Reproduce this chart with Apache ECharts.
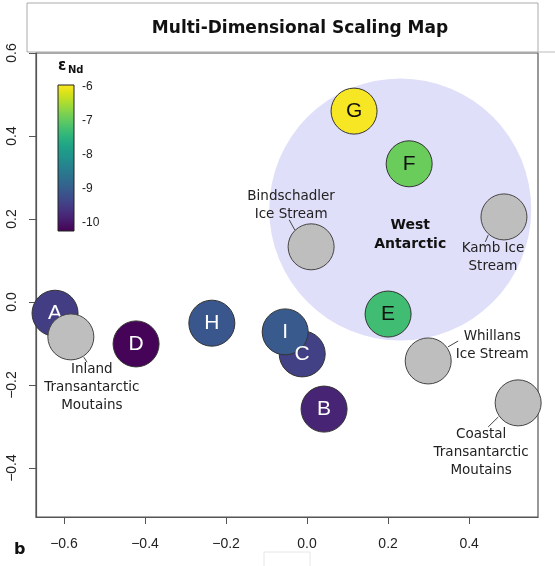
<!DOCTYPE html>
<html>
<head>
<meta charset="utf-8">
<script src="https://cdn.jsdelivr.net/npm/echarts@6/dist/echarts.min.js"></script>
<style>html,body{margin:0;padding:0;background:#fff;}#chart{width:555px;height:566px;}</style>
</head>
<body>
<div id="chart"></div>
<script>
// ---- data ----
const sampleNames = ['A', 'B', 'C', 'D', 'E', 'F', 'G', 'H', 'I'];
const sampleX = [-0.622, 0.042, -0.012, -0.422, 0.200, 0.252, 0.116, -0.235, -0.054];
const sampleY = [-0.027, -0.258, -0.125, -0.101, -0.029, 0.333, 0.460, -0.051, -0.072];
const sampleENd = [-9.47, -9.81, -9.42, -10.2, -7.27, -6.93, -5.98, -9.08, -9.04];

const sourceNames = ['Bindschadler\nIce Stream', 'Kamb Ice\nStream', 'Whillans\nIce Stream',
  'Coastal\nTransantarctic\nMoutains', 'Inland\nTransantarctic\nMoutains'];
const sourceX = [0.010, 0.486, 0.299, 0.521, -0.583];
const sourceY = [0.133, 0.205, -0.142, -0.243, -0.084];

// leader lines (data units): [x1, y1, x2, y2]
const leaderX1 = [-0.044, 0.440, 0.348, 0.447, -0.551];
const leaderY1 = [0.198, 0.145, -0.108, -0.301, -0.133];
const leaderX2 = [-0.030, 0.447, 0.373, 0.472, -0.543];
const leaderY2 = [0.173, 0.161, -0.094, -0.277, -0.145];

const regionName = 'West\nAntarctic';
const regionX = [0.230];
const regionY = [0.223];

const xTicks = [-0.6, -0.4, -0.2, 0.0, 0.2, 0.4];
const yTicks = [-0.4, -0.2, 0.0, 0.2, 0.4, 0.6];
const cbTicks = [-10, -9, -8, -7, -6];
const cbMinorTicks = [-10, -9.5, -9, -8.5, -8, -7.5, -7, -6.5, -6];
const cbMin = -10.24, cbMax = -5.94;

// ---- styling ----
const viridis = ['#440154', '#471365', '#482475', '#463480', '#414487', '#3b528b', '#355f8d',
  '#2f6c8e', '#2a788e', '#25848e', '#21918c', '#1e9c89', '#22a884', '#2fb47c', '#44bf70',
  '#5ec962', '#7ad151', '#9bd93c', '#bddf26', '#dfe318', '#fde725'];
const sourceLabelOffsets = [[-20, -41], [-11, 41], [64, -15], [-37, 50], [21, 51]];
const fmt = v => (Math.abs(v) < 1e-9 ? '0.0' : v.toFixed(1).replace('-', '\u2212'));
const axisColor = '#555';
const textColor = '#222';

const chart = echarts.init(document.getElementById('chart'), null, {renderer: 'canvas'});

const leaderSeries = leaderX1.map((x, i) => ({
  type: 'line', xAxisIndex: 0, yAxisIndex: 0, symbol: 'none', silent: true, z: 3,
  lineStyle: {color: '#444', width: 1},
  data: [[x, leaderY1[i]], [leaderX2[i], leaderY2[i]]]
}));

const option = {
  animation: false,
  backgroundColor: '#fff',
  grid: [
    {left: 36, right: 17, top: 53, bottom: 49, show: true, borderColor: axisColor, borderWidth: 1.2, backgroundColor: 'transparent'},
    {left: 58, top: 85, width: 16, height: 146}
  ],
  xAxis: [
    {
      type: 'value', gridIndex: 0, min: -0.669, max: 0.570,
      axisLine: {show: true, onZero: false, lineStyle: {color: axisColor, width: 1.2}},
      axisTick: {show: true, customValues: xTicks, length: 7, lineStyle: {color: axisColor}},
      axisLabel: {customValues: xTicks, formatter: fmt, margin: 20, fontSize: 14, color: textColor, fontFamily: 'Liberation Sans'},
      splitLine: {show: false}
    },
    {type: 'value', gridIndex: 1, show: false, min: 0, max: 1}
  ],
  yAxis: [
    {
      type: 'value', gridIndex: 0, min: -0.518, max: 0.600,
      axisLine: {show: true, onZero: false, lineStyle: {color: axisColor, width: 1.2}},
      axisTick: {show: true, customValues: yTicks, length: 7, lineStyle: {color: axisColor}},
      axisLabel: {customValues: yTicks, formatter: fmt, rotate: 90, margin: 17, fontSize: 14, color: textColor, fontFamily: 'Liberation Sans'},
      splitLine: {show: false}
    },
    {
      type: 'value', gridIndex: 1, position: 'right', min: cbMin, max: cbMax,
      axisLine: {show: false},
      axisTick: {show: true, customValues: cbMinorTicks, length: 5, lineStyle: {color: '#333'}},
      axisLabel: {customValues: cbTicks, formatter: v => String(v), margin: 8, fontSize: 12, color: textColor, fontFamily: 'Liberation Sans'},
      splitLine: {show: false}
    }
  ],
  visualMap: {
    type: 'continuous', show: false, min: cbMin, max: cbMax, dimension: 2, seriesIndex: 1,
    inRange: {color: viridis}
  },
  series: [
    {
      type: 'scatter', xAxisIndex: 0, yAxisIndex: 0, symbolSize: 262, silent: true, z: 1,
      itemStyle: {color: '#dfdffa', opacity: 1},
      label: {
        show: true, position: 'inside', offset: [10, 25], formatter: regionName,
        fontSize: 14, fontWeight: 'bold', color: '#111', lineHeight: 19, fontFamily: 'DejaVu Sans'
      },
      data: regionX.map((x, i) => [x, regionY[i]])
    },
    {
      type: 'scatter', xAxisIndex: 0, yAxisIndex: 0, symbolSize: 46, z: 4,
      itemStyle: {borderColor: '#333', borderWidth: 1, opacity: 1},
      label: {show: true, position: 'inside', formatter: p => p.data.value[3], fontSize: 21, fontFamily: 'Liberation Sans'},
      data: sampleNames.map((n, i) => ({
        value: [sampleX[i], sampleY[i], sampleENd[i], n],
        label: {color: sampleENd[i] > -7.6 ? '#111' : '#fff'}
      }))
    },
    {
      type: 'scatter', xAxisIndex: 0, yAxisIndex: 0, symbolSize: 46, z: 5,
      itemStyle: {color: '#bebebe', borderColor: '#444', borderWidth: 1, opacity: 1},
      label: {show: true, position: 'inside', fontSize: 13.5, lineHeight: 18, color: textColor, fontFamily: 'DejaVu Sans', align: 'center'},
      data: sourceNames.map((n, i) => ({
        value: [sourceX[i], sourceY[i]],
        label: {formatter: n, offset: sourceLabelOffsets[i]}
      }))
    },
    ...leaderSeries
  ],
  graphic: [
    {type: 'rect', z: 10, shape: {x: 27, y: 3, width: 511, height: 49}, style: {fill: '#fff', stroke: '#aaa', lineWidth: 1}},
    {type: 'line', z: 10, shape: {x1: 538, y1: 52, x2: 555, y2: 52}, style: {stroke: '#bbb', lineWidth: 1}},
    {type: 'text', z: 11, x: 300, y: 29, style: {text: 'Multi-Dimensional Scaling Map', font: 'bold 17px "DejaVu Sans"', fill: '#111', textAlign: 'center', textVerticalAlign: 'middle'}},
    {type: 'rect', z: 10, shape: {x: 58, y: 85, width: 16, height: 146},
      style: {fill: new echarts.graphic.LinearGradient(0, 0, 0, 1, viridis.slice().reverse().map((c, i, a) => ({offset: i / (a.length - 1), color: c}))), stroke: '#222', lineWidth: 1}},
    {type: 'text', z: 11, x: 58, y: 66, style: {text: '\u03b5', font: 'bold 15px "DejaVu Sans"', fill: '#111', textVerticalAlign: 'middle'}},
    {type: 'text', z: 11, x: 68, y: 70, style: {text: 'Nd', font: 'bold 10px "DejaVu Sans"', fill: '#111', textVerticalAlign: 'middle'}},
    {type: 'text', z: 11, x: 14, y: 550, style: {text: 'b', font: 'bold 16px "DejaVu Sans"', fill: '#111', textVerticalAlign: 'middle'}},
    {type: 'rect', z: 0, shape: {x: 264, y: 552, width: 46, height: 20}, style: {fill: 'none', stroke: '#e6e6e6', lineWidth: 1}}
  ]
};
chart.setOption(option);
</script>
</body>
</html>
